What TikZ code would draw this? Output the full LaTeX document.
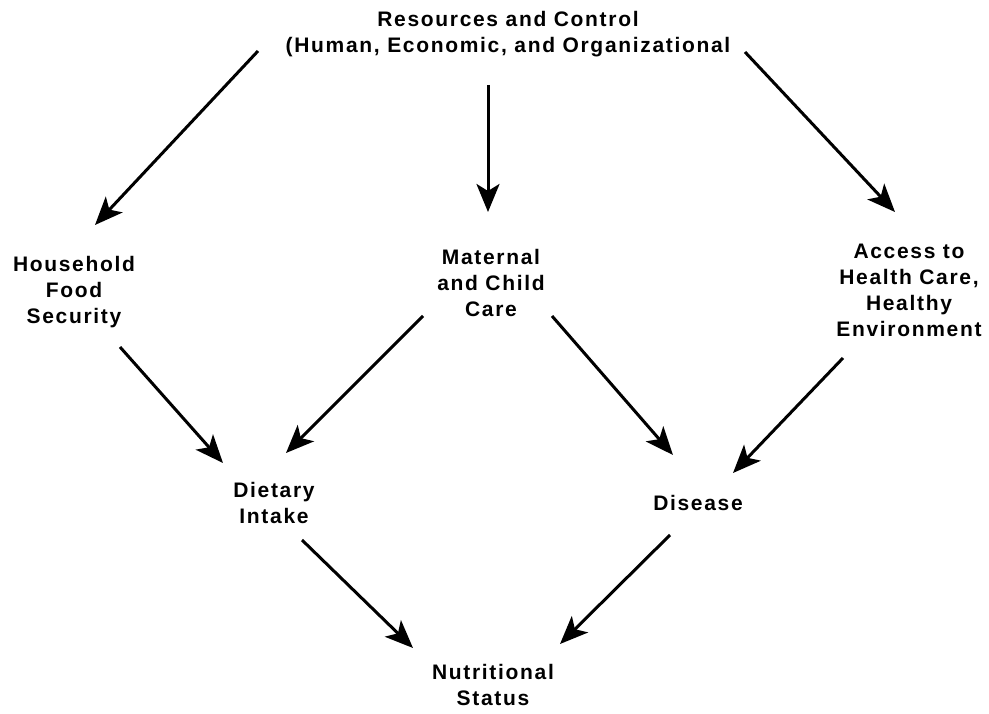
\documentclass[tikz,border=0pt]{standalone}
\usepackage{fontspec}
\setmainfont[LetterSpace=8]{Liberation Sans}
\usetikzlibrary{arrows.meta,calc}

\begin{document}
\begin{tikzpicture}[x=1pt,y=-1pt,
  lbl/.style={align=center,inner sep=0pt,font=\fontsize{21}{26}\selectfont\bfseries},
  arr/.style={line width=3pt,-{Stealth[length=28pt,width=23pt,inset=7pt]}}]
\useasboundingbox (0,0) rectangle (989,714);
\node[lbl] (res) at (508,34) {Resources and Control\\(Human, Economic, and Organizational};
\node[lbl] (food) at (74,292) {Household\\Food\\Security};
\node[lbl] (care) at (491,283) {Maternal\\and Child\\Care};
\node[lbl] (health) at (909,290) {Access to\\Health Care,\\Healthy\\Environment};
\node[lbl] (diet) at (274,503) {Dietary\\Intake};
\node[lbl] (dis) at (698,503) {Disease};
\node[lbl] (nut) at (493,685) {Nutritional\\Status};
\draw[arr] ($(res)+(-250,17)$) -- ($(food)+(21,-67)$);
\draw[arr] ($(res)+(-20,51)$) -- ($(care)+(-3,-71)$);
\draw[arr] ($(res)+(237,18)$) -- ($(health)+(-14,-78)$);
\draw[arr] ($(food)+(46,55)$) -- ($(diet)+(-51,-40)$);
\draw[arr] ($(care)+(-68,33)$) -- ($(diet)+(12,-50)$);
\draw[arr] ($(care)+(61,33)$) -- ($(dis)+(-25,-48)$);
\draw[arr] ($(health)+(-66,68)$) -- ($(dis)+(35,-30)$);
\draw[arr] ($(diet)+(28,37)$) -- ($(nut)+(-80,-37)$);
\draw[arr] ($(dis)+(-28,32)$) -- ($(nut)+(67,-41)$);
\end{tikzpicture}
\end{document}
